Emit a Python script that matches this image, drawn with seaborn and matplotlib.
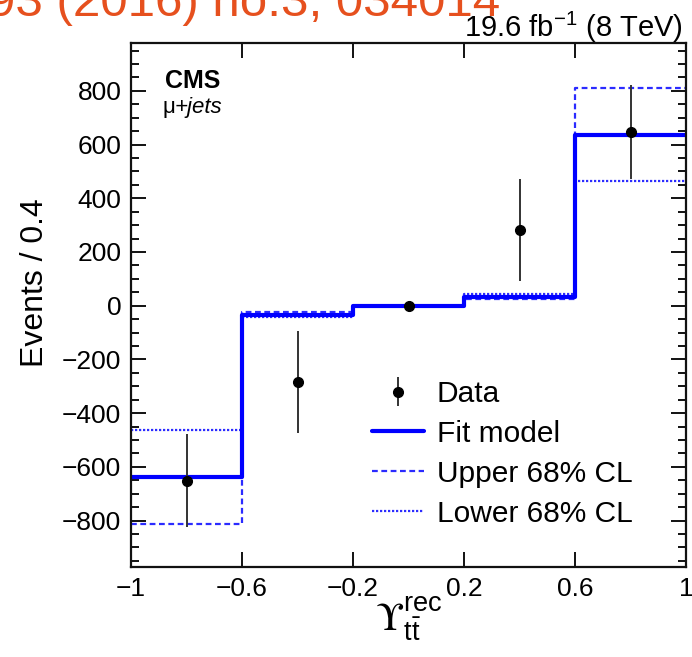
import numpy as np
import pandas as pd
import matplotlib
matplotlib.use("Agg")
import matplotlib.pyplot as plt
from matplotlib.ticker import FixedLocator, MultipleLocator
import seaborn as sns

# ---- data ----
bin_edges = [-1.0, -0.6, -0.2, 0.2, 0.6, 1.0]
bin_centers = [-0.8, -0.4, 0.0, 0.4, 0.8]
data_values = [-651, -285, 0, 282, 647]
data_errors = [174, 189, 0, 190, 174]
fit_model = [-637, -33, 0, 33, 637]
upper_cl = [-812, -25, 0, 25, 812]
lower_cl = [-463, -43, 0, 43, 463]
xtick_values = [-1.0, -0.6, -0.2, 0.2, 0.6, 1.0]
xtick_labels = ["\u22121", "\u22120.6", "\u22120.2", "0.2", "0.6", "1"]
ytick_values = [-800, -600, -400, -200, 0, 200, 400, 600, 800]

sns.set_theme(style="ticks")
plt.rcParams["font.family"] = ["Liberation Sans", "DejaVu Sans"]
plt.rcParams["mathtext.fontset"] = "custom"
plt.rcParams["mathtext.rm"] = "Liberation Sans"
plt.rcParams["mathtext.it"] = "Liberation Sans:italic"
plt.rcParams["mathtext.bf"] = "Liberation Sans:bold"
for k in ["text.color", "axes.labelcolor", "xtick.color", "ytick.color", "axes.edgecolor"]:
    plt.rcParams[k] = "black"

W, H = 692, 657
fig = plt.figure(figsize=(W / 100, H / 100), dpi=100)
ax = fig.add_axes([131 / W, 1 - 567 / H, (686 - 131) / W, (567 - 43) / H])


def step_frame(vals):
    return pd.DataFrame({"x": bin_edges, "y": list(vals) + [vals[-1]]})


blue = "#0000ff"
light_blue = "#2b2bff"
sns.lineplot(data=step_frame(upper_cl), x="x", y="y", ax=ax, drawstyle="steps-post",
             color=light_blue, lw=1.6, linestyle=(0, (2.6, 1.6)), sort=False,
             label="Upper 68% CL")
sns.lineplot(data=step_frame(lower_cl), x="x", y="y", ax=ax, drawstyle="steps-post",
             color=light_blue, lw=1.6, linestyle=(0, (1.0, 0.8)), sort=False,
             label="Lower 68% CL")
sns.lineplot(data=step_frame(fit_model), x="x", y="y", ax=ax, drawstyle="steps-post",
             color=blue, lw=3.0, sort=False, label="Fit model")
ax.errorbar(bin_centers, data_values, yerr=data_errors, fmt="o", color="black",
            ecolor="#333333", elinewidth=1.4, markersize=7, capsize=0, label="Data", zorder=5)

handles, labels = ax.get_legend_handles_labels()
order = ["Data", "Fit model", "Upper 68% CL", "Lower 68% CL"]
hmap = dict(zip(labels, handles))
ax.legend([hmap[k] for k in order], order, loc="upper left",
          bbox_to_anchor=(372 / W, 1 - 380 / H), bbox_transform=fig.transFigure,
          frameon=False, fontsize=21.5, handlelength=1.75, handletextpad=0.42,
          labelspacing=0.40, borderpad=0.0, borderaxespad=0.0)

ax.set_xlim(-1, 1)
ax.set_ylim(-973, 978)
ax.xaxis.set_major_locator(FixedLocator(xtick_values))
ax.set_xticklabels(xtick_labels)
ax.yaxis.set_major_locator(FixedLocator(ytick_values))
ax.yaxis.set_minor_locator(MultipleLocator(50))
ax.tick_params(axis="both", which="major", direction="in", length=11, width=1.4,
               top=True, right=True, labelsize=19, pad=7, color="#111111")
ax.tick_params(axis="y", which="minor", direction="in", length=6, width=1.4,
               left=True, right=True, color="#111111")
ax.tick_params(axis="x", which="minor", bottom=False, top=False)
for s in ax.spines.values():
    s.set_linewidth(1.6)
    s.set_color("#111111")

ax.set_ylabel("Events / 0.4", fontsize=23)
ax.yaxis.set_label_coords((50 - 131) / 555, (567 - 283) / 524)
xl = ax.set_xlabel("$\\mathrm{\u03d2}^{\\mathregular{rec}}_{\\mathregular{t\\bar{t}}}$",
                   fontsize=28, labelpad=-4)
xl.set_math_fontfamily("stix")

fig.text(165 / W, 1 - 88 / H, "CMS", fontsize=18, fontweight="bold", ha="left", va="baseline")
fig.text(163 / W, 1 - 113 / H, "\u03bc", fontsize=16, ha="left", va="baseline")
fig.text(175 / W, 1 - 113 / H, "+jets", fontsize=16, style="italic", ha="left", va="baseline")
fig.text(683 / W, 1 - 37 / H, "19.6 fb$^{-1}$ (8 TeV)", fontsize=21, ha="right", va="baseline")
fig.text(-12 / W, 1 - 16 / H, "93 (2016) no.3, 034014", fontsize=35.5, color="#e6501e",
         ha="left", va="baseline")

fig.savefig("out.png", dpi=100)
